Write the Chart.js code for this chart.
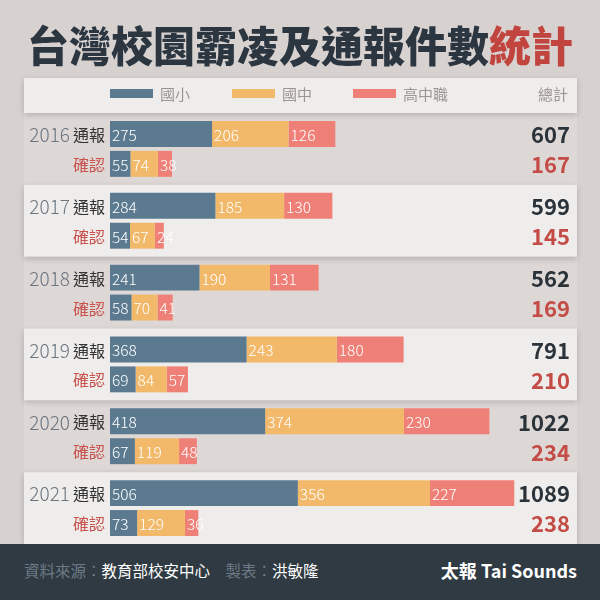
<!DOCTYPE html>
<html><head><meta charset="utf-8">
<script src="https://cdn.jsdelivr.net/npm/chart.js@4"></script>
<style>
html,body{margin:0;padding:0;}
body{width:600px;height:600px;background:#d7d1d0;position:relative;overflow:hidden;font-family:"Noto Sans CJK TC","Noto Sans",sans-serif;}
#c{position:absolute;left:0;top:0;}
#title{position:absolute;left:0;top:14px;width:600px;text-align:center;font-size:42px;font-weight:900;color:#2c3640;letter-spacing:0px;line-height:60px;white-space:nowrap;}
#title span{color:#c1443e;}
.leg{position:absolute;top:84px;font-size:15px;color:#9b9593;line-height:20px;}
.sw{position:absolute;top:89px;width:43px;height:9px;}
#footer{position:absolute;left:0;top:544px;width:600px;height:56px;background:#2f3a43;}
#src{position:absolute;left:24px;top:14px;font-size:15.5px;line-height:24px;color:#fff;white-space:nowrap;}
#src .g{color:#6e7b86;}
#brand{position:absolute;right:23px;top:13px;font-size:18px;font-weight:700;line-height:26px;color:#fff;}
</style></head>
<body>
<canvas id="c" width="600" height="600"></canvas>
<div id="title">台灣校園霸凌及通報件數<span>統計</span></div>
<div class="sw" style="left:110px;background:#5b7a90"></div><div class="leg" style="left:160px">國小</div>
<div class="sw" style="left:232px;background:#f2b96a"></div><div class="leg" style="left:282px">國中</div>
<div class="sw" style="left:353px;background:#ef8078"></div><div class="leg" style="left:403px">高中職</div>
<div class="leg" style="left:538px">總計</div>
<div id="footer"><div id="src"><span class="g">資料來源：</span>教育部校安中心　<span class="g">製表：</span>洪敏隆</div><div id="brand">太報 Tai Sounds</div></div>
<script>
const years = ['2016','2017','2018','2019','2020','2021'];
const reportElem   = [275,284,241,368,418,506];
const reportJunior = [206,185,190,243,374,356];
const reportSenior = [126,130,131,180,230,227];
const confirmElem   = [55,54,58,69,67,73];
const confirmJunior = [74,67,70,84,119,129];
const confirmSenior = [38,24,41,57,48,36];
const seriesNames = ['國小','國中','高中職'];
const rowNames = ['通報','確認'];

const colors = ['#5b7a90','#f2b96a','#ef8078'];
const FONT = '"Noto Sans CJK TC","Noto Sans",sans-serif';

function ds(label, data, color, stack){
  return {label, data, backgroundColor: color, stack, borderWidth: 0,
    categoryPercentage: 0.833, barPercentage: 0.867};
}

const bandPlugin = {
  id: 'bands',
  beforeDraw(chart){
    const ctx = chart.ctx, ca = chart.chartArea, ys = chart.scales.y;
    const n = years.length, h = (ca.bottom - ca.top)/n;
    const L = 24, R = 577;
    ctx.save();
    // dark bands
    for(let i=0;i<n;i++){
      if(i%2===0){ ctx.fillStyle = '#ddd7d5'; ctx.fillRect(L, ca.top+i*h, R-L, h); }
    }
    // light bands with soft shadow
    ctx.shadowColor = 'rgba(0,0,0,0.18)'; ctx.shadowBlur = 6; ctx.shadowOffsetY = 2;
    ctx.fillStyle = '#efedeb';
    ctx.fillRect(L, 78, R-L, ca.top-78);
    for(let i=0;i<n;i++){
      if(i%2===1){ ctx.fillRect(L, ca.top+i*h, R-L, h); }
    }
    ctx.restore();
  }
};

const labelPlugin = {
  id: 'labels',
  afterDatasetsDraw(chart){
    const ctx = chart.ctx;
    ctx.save();
    ctx.textBaseline = 'middle';
    // values inside bars
    chart.data.datasets.forEach((d, di) => {
      const meta = chart.getDatasetMeta(di);
      meta.data.forEach((el, i) => {
        ctx.fillStyle = '#ffffff';
        ctx.font = '300 15.5px ' + FONT;
        ctx.textAlign = 'left';
        ctx.fillText(String(d.data[i]), el.base + 2, el.y + 1);
      });
    });
    // row labels & totals
    const rep = chart.getDatasetMeta(0), con = chart.getDatasetMeta(3);
    years.forEach((yr, i) => {
      const y1 = rep.data[i].y, y2 = con.data[i].y;
      ctx.textAlign = 'right';
      ctx.font = '400 16px ' + FONT;
      ctx.fillStyle = '#343434';
      ctx.fillText(rowNames[0], 105, y1 + 1);
      const w = ctx.measureText(rowNames[0]).width;
      ctx.font = '300 19px ' + FONT;
      ctx.fillStyle = '#6a7580';
      ctx.fillText(yr, 105 - w - 3, y1 + 1);
      ctx.font = '400 16px ' + FONT;
      ctx.fillStyle = '#c9534e';
      ctx.fillText(rowNames[1], 105, y2 + 1);
      const tr = reportElem[i] + reportJunior[i] + reportSenior[i];
      const tc = confirmElem[i] + confirmJunior[i] + confirmSenior[i];
      ctx.font = '700 22px ' + FONT;
      ctx.fillStyle = '#2a323a';
      ctx.fillText(String(tr), 570, y1 + 1);
      ctx.fillStyle = '#c44c46';
      ctx.fillText(String(tc), 570, y2 + 1);
    });
    ctx.restore();
  }
};

new Chart(document.getElementById('c'), {
  type: 'bar',
  data: {
    labels: years,
    datasets: [
      ds(seriesNames[0]+rowNames[0], reportElem, colors[0], 'r'),
      ds(seriesNames[1]+rowNames[0], reportJunior, colors[1], 'r'),
      ds(seriesNames[2]+rowNames[0], reportSenior, colors[2], 'r'),
      ds(seriesNames[0]+rowNames[1], confirmElem, colors[0], 'c'),
      ds(seriesNames[1]+rowNames[1], confirmJunior, colors[1], 'c'),
      ds(seriesNames[2]+rowNames[1], confirmSenior, colors[2], 'c')
    ]
  },
  options: {
    indexAxis: 'y',
    responsive: false,
    animation: false,
    layout: {padding: {left: 110, right: 23, top: 113, bottom: 56}},
    scales: {
      x: {stacked: true, display: false, min: 0, max: 1258},
      y: {stacked: true, display: false}
    },
    plugins: {legend: {display: false}, tooltip: {enabled: false}}
  },
  plugins: [bandPlugin, labelPlugin]
});
</script>
</body></html>
